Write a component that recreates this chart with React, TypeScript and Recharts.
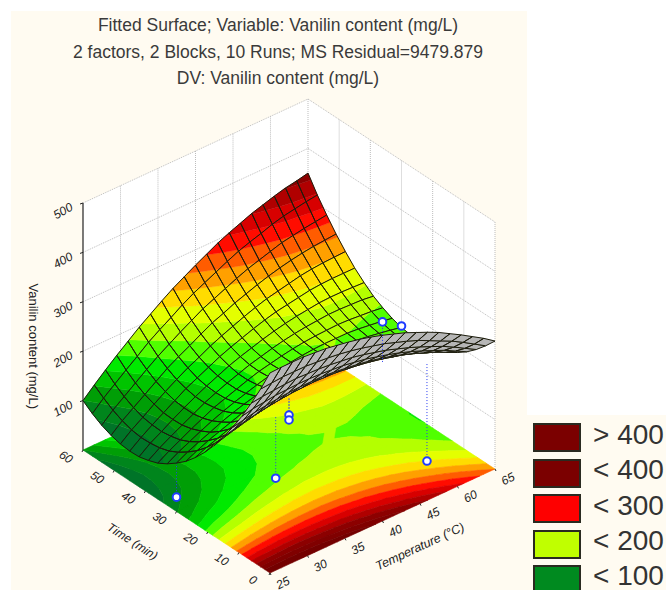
import React from 'react';
import { LineChart, Line, XAxis, YAxis } from 'recharts';

const titleLines = [
  'Fitted Surface; Variable: Vanilin content (mg/L)',
  '2 factors, 2 Blocks, 10 Runs; MS Residual=9479.879',
  'DV: Vanilin content (mg/L)',
];

const temperatures = [25, 27, 29, 31, 33, 35, 37, 39, 41, 43, 45, 47, 49, 51, 53, 55, 57, 59, 61, 63, 65];
const times = [0, 3, 6, 9, 12, 15, 18, 21, 24, 27, 30, 33, 36, 39, 42, 45, 48, 51, 54, 57, 60];

const vanilinAt25 = [405, 360, 319, 280, 245, 213, 183, 157, 134, 114, 98, 84, 73, 66, 61, 60, 62, 67, 75, 86, 100];
const vanilinAt27 = [406, 362, 322, 285, 250, 219, 191, 166, 144, 125, 110, 97, 87, 81, 78, 77, 80, 86, 95, 107, 121];
const vanilinAt29 = [406, 364, 324, 288, 255, 225, 197, 173, 152, 135, 120, 108, 99, 94, 91, 92, 95, 102, 112, 125, 141];
const vanilinAt31 = [406, 364, 326, 291, 258, 229, 203, 180, 160, 143, 129, 119, 111, 106, 105, 106, 111, 118, 129, 143, 160];
const vanilinAt33 = [404, 364, 327, 292, 261, 233, 208, 186, 167, 151, 139, 129, 122, 118, 118, 120, 126, 134, 146, 160, 178];
const vanilinAt35 = [402, 362, 326, 293, 263, 236, 212, 191, 174, 159, 147, 138, 133, 130, 130, 134, 140, 150, 162, 178, 196];
const vanilinAt37 = [398, 360, 325, 293, 264, 238, 215, 195, 179, 165, 154, 146, 141, 140, 141, 145, 153, 163, 176, 193, 212];
const vanilinAt39 = [394, 357, 323, 292, 264, 239, 218, 199, 183, 170, 160, 153, 149, 149, 151, 156, 164, 175, 190, 207, 228];
const vanilinAt41 = [389, 353, 320, 290, 264, 240, 219, 201, 186, 175, 166, 160, 157, 157, 161, 167, 176, 188, 203, 222, 243];
const vanilinAt43 = [383, 348, 317, 288, 262, 239, 220, 203, 189, 178, 170, 166, 164, 165, 169, 176, 186, 200, 216, 235, 256];
const vanilinAt45 = [376, 342, 312, 284, 259, 238, 219, 203, 190, 181, 174, 170, 169, 171, 176, 184, 195, 209, 226, 246, 269];
const vanilinAt47 = [368, 336, 306, 280, 256, 235, 218, 203, 191, 182, 177, 174, 174, 177, 183, 192, 204, 219, 236, 257, 281];
const vanilinAt49 = [360, 328, 300, 274, 252, 232, 216, 202, 191, 183, 179, 177, 178, 182, 189, 199, 212, 227, 246, 268, 293];
const vanilinAt51 = [350, 320, 292, 268, 247, 228, 213, 200, 190, 184, 180, 179, 181, 186, 194, 205, 219, 235, 255, 278, 303];
const vanilinAt53 = [340, 311, 284, 261, 241, 223, 209, 197, 188, 183, 180, 180, 183, 189, 198, 209, 224, 242, 262, 286, 312];
const vanilinAt55 = [329, 300, 275, 253, 234, 217, 204, 193, 186, 181, 179, 180, 184, 191, 201, 213, 229, 248, 269, 293, 321];
const vanilinAt57 = [316, 289, 265, 244, 226, 211, 198, 189, 182, 179, 178, 180, 185, 193, 204, 217, 234, 253, 276, 301, 328];
const vanilinAt59 = [303, 278, 255, 234, 217, 203, 192, 183, 177, 175, 175, 178, 184, 193, 205, 219, 237, 257, 280, 307, 335];
const vanilinAt61 = [289, 265, 243, 224, 208, 194, 184, 177, 172, 170, 171, 175, 182, 192, 205, 220, 239, 260, 284, 311, 341];
const vanilinAt63 = [275, 251, 230, 212, 197, 185, 176, 169, 166, 165, 167, 172, 180, 191, 204, 220, 240, 262, 287, 315, 345];
const vanilinAt65 = [259, 237, 217, 200, 186, 175, 167, 161, 159, 159, 162, 168, 177, 188, 203, 220, 241, 264, 290, 318, 350];

const surface = [
  vanilinAt25, vanilinAt27, vanilinAt29, vanilinAt31, vanilinAt33, vanilinAt35, vanilinAt37,
  vanilinAt39, vanilinAt41, vanilinAt43, vanilinAt45, vanilinAt47, vanilinAt49, vanilinAt51,
  vanilinAt53, vanilinAt55, vanilinAt57, vanilinAt59, vanilinAt61, vanilinAt63, vanilinAt65,
];

const bandTops = [40, 60, 80, 100, 120, 140, 160, 180, 200, 220, 240, 260, 280, 300, 320, 340, 360, 380, 9999];
const bandColors = [
  '#00502e', '#00642c', '#007428', '#00851c', '#009e06', '#00c400', '#00ea00', '#50ff00', '#b4ff00', '#e4ff00',
  '#ffdc00', '#ffa000', '#ff5c00', '#ff0c00', '#d80000', '#b00000', '#8c0000', '#800000', '#740000',
];

const vanilinTicks = [100, 200, 300, 400, 500];
const temperatureTicks = [25, 31.67, 38.33, 45, 51.67, 58.33, 65];
const temperatureLabels = ['25', '30', '35', '40', '45', '60', '65'];
const timeTicks = [0, 10, 20, 30, 40, 50, 60];

// observed runs: under the surface first, the last one stands in front of it
const lowerRunTemperature = [25, 31, 45, 45, 59, 65];
const lowerRunTime = [30, 9, 30, 30, 11, 30];
const lowerRunVanilin = [29, 123, 90, 80, 2, 165];
const lowerRunFitted = [98, 248, 124, 124, 202, 165];
const upperRunTemperature = [45];
const upperRunTime = [0];
const upperRunVanilin = [403];
const upperRunFitted = [322];

const legendLabels = ['> 400', '< 400', '< 300', '< 200', '< 100'];
const legendColors = ['#7b0000', '#7b0000', '#fe0000', '#c0ff00', '#008a1f'];

const WIDTH = 666;
const HEIGHT = 590;
const FONT = '"Liberation Sans", Arial, sans-serif';

type Vertex = { T: number; t: number; z: number };
type Pt = { x: number; y: number | null; label?: string };

// parallel projection of the three axes onto the picture plane
const project = (T: number, t: number, z: number) => ({
  x: 270 + ((T - 25) * 225) / 40 - (t * 187) / 60,
  y: 573 - ((T - 25) * 104) / 40 - (t * 123) / 60 - (z * 247) / 500,
});

const clipZ = (poly: Vertex[], level: number, keepAbove: boolean) => {
  const out: Vertex[] = [];
  poly.forEach((a, k) => {
    const b = poly[(k + 1) % poly.length];
    const aIn = keepAbove ? a.z >= level : a.z <= level;
    const bIn = keepAbove ? b.z >= level : b.z <= level;
    if (aIn) out.push(a);
    if (aIn !== bIn) {
      const f = (level - a.z) / (b.z - a.z);
      out.push({ T: a.T + f * (b.T - a.T), t: a.t + f * (b.t - a.t), z: level });
    }
  });
  return out;
};

const cell = (i: number, j: number): Vertex[] => [
  { T: temperatures[i], t: times[j], z: surface[i][j] },
  { T: temperatures[i + 1], t: times[j], z: surface[i + 1][j] },
  { T: temperatures[i + 1], t: times[j + 1], z: surface[i + 1][j + 1] },
  { T: temperatures[i], t: times[j + 1], z: surface[i][j + 1] },
];

const ring = (poly: Vertex[], flat: boolean): Pt[] => {
  const pts: Pt[] = poly.map((v) => project(v.T, v.t, flat ? 0 : v.z));
  return [...pts, pts[0], { x: 0, y: null }];
};

const bandPiece = (poly: Vertex[], band: number) => {
  const lo = band === 0 ? -9999 : bandTops[band - 1];
  return clipZ(clipZ(poly, lo, true), bandTops[band], false);
};

const facesDown = (poly: Vertex[]) => {
  const p = poly.map((v) => project(v.T, v.t, v.z));
  let area = 0;
  p.forEach((a, k) => {
    const b = p[(k + 1) % p.length];
    area += a.x * b.y - b.x * a.y;
  });
  return area > 0;
};

type Layer = { key: string; color: string | null; stroke: string; width: number; dash?: string; points: Pt[] };

const floorLayers: Layer[] = bandColors.map((color, band) => {
  const points: Pt[] = [];
  for (let i = 0; i < 20; i++) {
    for (let j = 0; j < 20; j++) {
      const piece = bandPiece(cell(i, j), band);
      if (piece.length > 2) points.push(...ring(piece, true));
    }
  }
  return { key: `floor-${band}`, color, stroke: color, width: 0.6, points };
});

// painted from the far time row to the near one
const surfaceLayers: Layer[] = [];
for (let j = 19; j >= 0; j--) {
  const mesh: Pt[] = [];
  const under: Pt[] = [];
  const perBand: Pt[][] = bandColors.map(() => []);
  for (let i = 19; i >= 0; i--) {
    const c = cell(i, j);
    mesh.push(...ring(c, false));
    if (facesDown(c)) {
      under.push(...ring(c, false));
    } else {
      bandColors.forEach((_, band) => {
        const piece = bandPiece(c, band);
        if (piece.length > 2) perBand[band].push(...ring(piece, false));
      });
    }
  }
  perBand.forEach((points, band) => {
    if (points.length) {
      surfaceLayers.push({ key: `s-${j}-${band}`, color: bandColors[band], stroke: bandColors[band], width: 0.4, points });
    }
  });
  if (under.length) surfaceLayers.push({ key: `u-${j}`, color: '#b6b6b6', stroke: '#b6b6b6', width: 0.3, points: under });
  surfaceLayers.push({ key: `m-${j}`, color: null, stroke: '#1c1c0c', width: 1, points: mesh });
}

const wallLeft = [project(25, 60, 0), project(65, 60, 0), project(65, 60, 500), project(25, 60, 500)];
const wallRight = [project(65, 60, 0), project(65, 0, 0), project(65, 0, 500), project(65, 60, 500)];

const gridPoints: Pt[] = [];
const pushSegment = (a: { x: number; y: number }, b: { x: number; y: number }) => gridPoints.push(a, b, { x: 0, y: null });
vanilinTicks.forEach((z) => {
  pushSegment(project(25, 60, z), project(65, 60, z));
  pushSegment(project(65, 60, z), project(65, 0, z));
});
temperatureTicks.slice(1).forEach((T) => pushSegment(project(T, 60, 0), project(T, 60, 500)));
timeTicks.slice(0, -1).forEach((t) => pushSegment(project(65, t, 0), project(65, t, 500)));

const tickPoints = (axis: 'T' | 't' | 'z'): Pt[] => {
  if (axis === 'T') return temperatureTicks.map((T) => project(T, 0, 0));
  if (axis === 't') return timeTicks.map((t) => project(25, t, 0));
  return vanilinTicks.map((z) => project(25, 60, z));
};

const offsetLabels = (points: Pt[], labels: string[]) => points.map((p, k) => ({ ...p, label: labels[k] }));

const textDot = (rotate: number, dx: number, dy: number, size: number, italic = true) => (props: any) => {
  const { cx, cy, payload, index } = props;
  const x = cx + dx;
  const y = cy + dy;
  return (
    <text
      key={index}
      x={x}
      y={y}
      transform={`rotate(${rotate} ${x} ${y})`}
      textAnchor="middle"
      dominantBaseline="central"
      fontFamily={FONT}
      fontStyle={italic ? 'italic' : 'normal'}
      fontSize={size}
      fill="#222"
    >
      {payload.label}
    </text>
  );
};

const tickDot = (dx: number, dy: number) => (props: any) => (
  <line key={props.index} x1={props.cx} y1={props.cy} x2={props.cx + dx} y2={props.cy + dy} stroke="#222" strokeWidth={1} />
);

const runDot = (props: any) => (
  <circle key={props.index} cx={props.cx} cy={props.cy} r={3.8} fill="#fff" stroke="#1f3cff" strokeWidth={2} />
);

const dropLines = (T: number[], t: number[], from: number[], to: number[]) => {
  const points: Pt[] = [];
  T.forEach((v, k) => points.push(project(v, t[k], from[k]), project(v, t[k], to[k]), { x: 0, y: null }));
  return points;
};
const runMarks = (T: number[], t: number[], z: number[]) => T.map((v, k) => project(v, t[k], z[k]));

const renderLayer = (l: Layer) => (
  <Line
    key={l.key}
    data={l.points}
    dataKey="y"
    stroke={l.stroke}
    strokeWidth={l.width}
    strokeDasharray={l.dash}
    style={{ fill: l.color ?? 'none' }}
    dot={false}
    activeDot={false}
    legendType="none"
    isAnimationActive={false}
  />
);

const markerLine = (key: string, data: Pt[], dot: any, stroke = 'none') => (
  <Line key={key} data={data} dataKey="y" stroke={stroke} dot={dot} activeDot={false} legendType="none" isAnimationActive={false} />
);

const App: React.FC = () => {
  return (
    <div style={{ position: 'absolute', left: 0, top: 0, width: WIDTH, height: HEIGHT, overflow: 'hidden', background: '#fff' }}>
      <div style={{ position: 'absolute', left: 11, top: 11, width: 516, height: 579, background: '#fffbf1' }} />
      <div style={{ position: 'absolute', left: 527, top: 415, width: 139, height: 175, background: '#fffbf1' }} />
      {titleLines.map((line, k) => (
        <div
          key={line}
          style={{
            position: 'absolute',
            left: 11,
            width: 534,
            top: 14 + k * 26.5,
            textAlign: 'center',
            fontFamily: FONT,
            fontSize: 17.5,
            lineHeight: '22px',
            color: '#3a3a3a',
            whiteSpace: 'nowrap',
          }}
        >
          {line}
        </div>
      ))}
      <div style={{ position: 'absolute', left: 0, top: 0 }}>
        <LineChart width={WIDTH} height={HEIGHT} margin={{ top: 0, right: 0, bottom: 0, left: 0 }}>
          <XAxis hide type="number" dataKey="x" domain={[0, WIDTH]} allowDataOverflow />
          <YAxis hide type="number" reversed domain={[0, HEIGHT]} allowDataOverflow />
          {renderLayer({ key: 'wall-left', color: '#fff', stroke: '#fff', width: 0, points: [...wallLeft, wallLeft[0]] })}
          {renderLayer({ key: 'wall-right', color: '#fff', stroke: '#fff', width: 0, points: [...wallRight, wallRight[0]] })}
          {renderLayer({ key: 'grid', color: null, stroke: '#bdbdbd', width: 1, dash: '1 1', points: gridPoints })}
          {renderLayer({ key: 'z-axis', color: null, stroke: '#222', width: 1.2, points: [project(25, 60, 0), project(25, 60, 500)] })}
          {floorLayers.map(renderLayer)}
          {markerLine('z-ticks', tickPoints('z'), tickDot(-3, 1))}
          {markerLine('T-ticks', tickPoints('T'), tickDot(1, 2))}
          {markerLine('t-ticks', tickPoints('t'), tickDot(-1, 2))}
          {markerLine('z-labels', offsetLabels(tickPoints('z'), vanilinTicks.map(String)), textDot(-30, -20, 8, 12))}
          {markerLine('T-labels', offsetLabels(tickPoints('T'), temperatureLabels), textDot(-27, 13, 10, 12))}
          {markerLine('t-labels', offsetLabels(tickPoints('t'), timeTicks.map(String)), textDot(33, -17, 7, 12))}
          {markerLine('t-title', [{ ...project(25, 30, 0), label: 'Time (min)' }], textDot(33, -44, 30, 12))}
          {markerLine('T-title', [{ ...project(49, 0, 0), label: 'Temperature (°C)' }], textDot(-25, 15, 36, 12.5))}
          {markerLine('z-title', [{ ...project(25, 60, 210), label: 'Vanilin content (mg/L)' }], textDot(90, -50, 0, 13, false))}
          {renderLayer({ key: 'lower-drops', color: null, stroke: '#2a3cf0', width: 1, dash: '1 2', points: dropLines(lowerRunTemperature, lowerRunTime, lowerRunVanilin, lowerRunFitted) })}
          {markerLine('lower-runs', runMarks(lowerRunTemperature, lowerRunTime, lowerRunVanilin), runDot)}
          {surfaceLayers.map(renderLayer)}
          {renderLayer({ key: 'upper-drops', color: null, stroke: '#2a3cf0', width: 1, dash: '1 2', points: dropLines(upperRunTemperature, upperRunTime, upperRunVanilin, upperRunFitted) })}
          {markerLine('upper-runs', runMarks(upperRunTemperature, upperRunTime, upperRunVanilin), runDot)}
        </LineChart>
      </div>
      {legendLabels.map((label, k) => (
        <React.Fragment key={k}>
          <div
            style={{
              position: 'absolute',
              left: 533,
              top: 423 + k * 35.5,
              width: 48,
              height: 29,
              boxSizing: 'border-box',
              border: '2px solid #2a2a20',
              background: legendColors[k],
            }}
          />
          <div
            style={{
              position: 'absolute',
              left: 593,
              top: 421 + k * 35.3,
              fontFamily: FONT,
              fontSize: 28,
              lineHeight: '27px',
              color: '#333',
              whiteSpace: 'nowrap',
            }}
          >
            {label}
          </div>
        </React.Fragment>
      ))}
    </div>
  );
};

export default App;
